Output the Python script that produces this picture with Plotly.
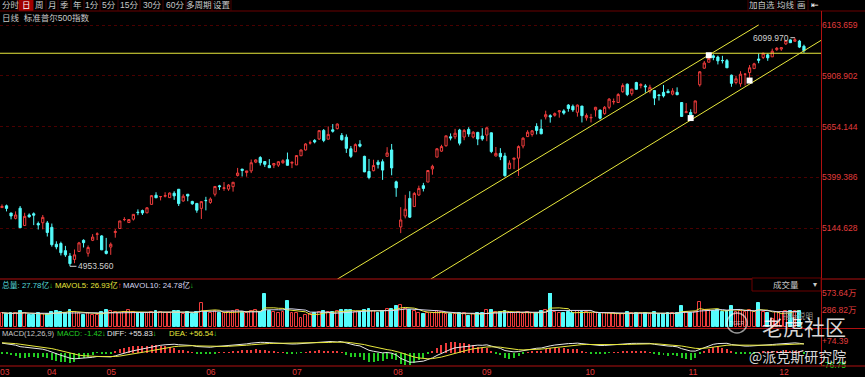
import plotly.graph_objects as go
import pandas as pd

W, H = 865, 377

# ---------------- data (S&P 500 daily) ----------------
dates = (["03-28"] +
         [f"04-{d:02d}" for d in [1,2,3,4,5,8,9,10,11,12,15,16,17,18,19,22,23,24,25,26,29,30]] +
         [f"05-{d:02d}" for d in [1,2,3,6,7,8,9,10,13,14,15,16,17,20,21,22,23,24,28,29,30,31]] +
         [f"06-{d:02d}" for d in [3,4,5,6,7,10,11,12,13,14,17,18,20,21,24,25,26,27,28]] +
         [f"07-{d:02d}" for d in [1,2,3,5,8,9,10,11,12,15,16,17,18,19,22,23,24,25,26,29,30,31]] +
         [f"08-{d:02d}" for d in [1,2,5,6,7,8,9,12,13,14,15,16,19,20,21,22,23,26,27,28,29,30]] +
         [f"09-{d:02d}" for d in [3,4,5,6,9,10,11,12,13,16,17,18,19,20,23,24,25,26,27,30]] +
         [f"10-{d:02d}" for d in [1,2,3,4,7,8,9,10,11,14,15,16,17,18,21,22,23,24,25,28,29,30,31]] +
         [f"11-{d:02d}" for d in [1,4,5,6,7,8,11,12,13,14,15,18,19,20,21,22,25,26,27,29]] +
         [f"12-{d:02d}" for d in [2,3,4,5,6,9,10]])

opens = [5248,
 5257,5221,5194,5245,5158,5211,5217,5168,5172,5171,5149,5064,5068,5032,5005,4988,5028,5084,5019,5084,5114,5106,
 5030,5050,5123,5143,5188,5173,5190,5225,5233,5222,5264,5310,5303,5305,5298,5320,5340,5281,5315,5279,5269,5244,
 5284,5274,5315,5357,5344,5341,5353,5409,5441,5424,5432,5476,5499,5479,5459,5461,5461,5473,5488,
 5471,5462,5508,5537,5572,5585,5592,5635,5591,5638,5644,5610,5601,5543,5528,5566,5505,5429,5433,5476,5478,5505,
 5537,5377,5151,5206,5294,5253,5311,5358,5376,5442,5501,5531,5558,5603,5603,5637,5602,5640,5602,5625,5607,5612,
 5623,5507,5520,5507,5443,5490,5496,5557,5604,5615,5655,5642,5703,5709,5711,5728,5733,5762,5756,5726,
 5757,5698,5698,5738,5737,5719,5751,5778,5775,5829,5867,5819,5875,5860,5858,5832,5835,5813,5826,5831,5817,5826,5775,
 5724,5725,5722,5864,5947,5977,6009,6003,5986,5985,5912,5875,5869,5917,5925,5945,5993,6001,6014,6004,
 6040,6043,6069,6089,6082,6083,6057]
highs = [5264,
 5263,5221,5229,5256,5222,5219,5224,5178,5211,5181,5168,5079,5077,5056,5020,5038,5076,5089,5058,5115,5124,5110,
 5096,5073,5140,5181,5200,5190,5215,5239,5238,5250,5311,5325,5305,5325,5324,5330,5341,5315,5315,5282,5270,5281,
 5302,5299,5355,5362,5376,5366,5375,5447,5442,5432,5489,5490,5506,5479,5491,5472,5481,5490,5524,
 5479,5510,5539,5571,5584,5591,5636,5642,5655,5667,5670,5622,5615,5557,5570,5586,5508,5492,5488,5487,5490,5551,
 5567,5383,5250,5312,5330,5326,5358,5372,5436,5463,5546,5563,5608,5620,5643,5643,5642,5651,5631,5628,5646,5651,
 5624,5552,5546,5523,5485,5497,5560,5601,5636,5637,5671,5690,5734,5716,5725,5736,5741,5767,5765,5765,
 5758,5720,5718,5753,5739,5757,5797,5795,5822,5871,5870,5843,5879,5872,5867,5864,5835,5817,5863,5842,5847,5851,5775,
 5772,5741,5784,5933,5983,6012,6017,6010,6009,5993,5915,5909,5932,5921,5963,5974,6021,6025,6021,6045,
 6053,6052,6087,6092,6100,6089,6065]
lows = [5246,
 5229,5189,5189,5146,5157,5197,5160,5138,5139,5103,5052,5039,5008,5001,4954,4969,5027,5048,5002,5080,5085,5035,
 5013,5011,5097,5142,5180,5171,5183,5210,5211,5219,5264,5296,5284,5299,5297,5287,5256,5278,5280,5262,5222,5191,
 5234,5267,5304,5336,5332,5332,5328,5404,5404,5403,5421,5471,5459,5452,5447,5446,5452,5468,5460,
 5446,5462,5507,5534,5564,5570,5587,5576,5590,5624,5640,5584,5522,5497,5528,5550,5426,5390,5430,5444,5387,5505,
 5410,5302,5120,5194,5196,5253,5307,5329,5376,5413,5501,5528,5554,5585,5591,5560,5586,5603,5595,5561,5583,5581,
 5521,5504,5486,5403,5443,5441,5407,5545,5602,5604,5615,5616,5690,5674,5704,5699,5714,5729,5728,5704,
 5675,5684,5675,5704,5690,5714,5741,5765,5775,5824,5807,5809,5840,5846,5824,5821,5762,5785,5800,5823,5811,5812,5703,
 5723,5697,5722,5855,5945,5977,5987,5966,5971,5948,5854,5866,5854,5860,5885,5944,5972,5993,5984,6004,
 6034,6034,6064,6075,6080,6048,6024]
closes = [5254,
 5244,5206,5211,5147,5204,5202,5210,5161,5199,5123,5062,5051,5022,5011,4967,5011,5071,5072,5048,5100,5116,5036,
 5018,5064,5128,5181,5188,5188,5214,5223,5221,5247,5308,5297,5303,5308,5321,5307,5268,5305,5306,5267,5235,5278,
 5283,5291,5354,5353,5347,5361,5375,5421,5434,5432,5473,5487,5473,5465,5448,5469,5478,5483,5460,
 5475,5509,5537,5567,5573,5577,5634,5585,5615,5631,5667,5588,5545,5505,5564,5556,5427,5399,5459,5464,5436,5522,
 5447,5347,5186,5240,5200,5319,5344,5344,5434,5455,5543,5554,5608,5597,5621,5571,5635,5617,5626,5592,5592,5648,
 5529,5520,5503,5408,5471,5496,5554,5596,5626,5633,5635,5618,5714,5703,5719,5733,5722,5745,5738,5762,
 5709,5710,5700,5751,5696,5751,5792,5780,5815,5860,5815,5842,5841,5865,5854,5851,5797,5810,5808,5824,5833,5814,5705,
 5729,5713,5783,5929,5973,5996,6001,5984,5985,5949,5871,5894,5917,5917,5949,5969,5987,6022,5999,6032,
 6047,6050,6086,6075,6090,6053,6035]
volumes = [24,
 22,23,24,27,23,20,21,23,22,22,26,27,25,24,29,25,23,21,24,20,21,25,
 29,27,25,24,25,28,25,24,23,24,25,27,26,24,24,27,27,22,25,22,26,41,
 26,24,27,23,23,25,27,28,26,24,27,28,26,56,27,25,24,25,44,
 24,23,16,21,22,23,25,27,25,25,27,29,28,28,25,25,28,31,27,24,27,31,
 31,35,37,31,29,27,24,22,24,24,27,25,22,22,22,23,23,19,22,23,23,28,
 28,26,25,27,24,23,26,22,25,23,24,27,28,57.36,25,24,23,25,23,27,
 26,25,24,24,22,23,23,23,22,22,26,24,24,23,24,22,25,22,22,23,24,24,36,
 26,24,26,43,29,28,27,28,26,27,36,25,27,25,28,26,40,25,23,14,
 25.15,26,27,27,26.87,27.78]

price_ticks = [5144.628, 5399.386, 5654.144, 5908.902, 6163.659]
vol_ticks = [57.364, 28.682]
vol_tick_text = ["573.64万", "286.82万"]
macd_ticks = [74.39, -76.75]
month_labels = ["03", "04", "05", "06", "07", "08", "09", "10", "11", "12"]
month_pos = [0.6, 11.0, 24.1, 46.1, 65.1, 87.4, 107.0, 129.8, 152.5, 172.6]

# trend lines drawn on the chart (index, price)
upper_x, upper_y = [74, 167], [4889, 6164]
lower_x, lower_y = [94.6, 180.8], [4889, 6087]
hline_price = 6022
anchor_x = [152, 156, 165]
anchor_y = [5697, 6012, 5885]
hi_idx, hi_val = 175, 6099.970
lo_idx, lo_val = 15, 4953.560

idx = list(range(len(closes)))
X0, X1 = -0.44, 180.76

def fy(y):
    return 1 - y / H

def fx(x):
    return x / W

RED = "#f03c3c"
CYAN = "#54fcfc"
AXRED = "#b01010"
GRIDRED = "#4a0000"
LBLRED = "#e03c3c"
YEL = "#e8e83c"
TXT = "#c8c8c8"
FONT = "Liberation Sans, Arial, Noto Sans CJK SC"
CJK = "Noto Sans CJK SC"

fig = go.Figure()

fig.add_trace(go.Candlestick(
    x=idx, open=opens, high=highs, low=lows, close=closes,
    increasing=dict(line=dict(color=RED, width=1), fillcolor="#000000"),
    decreasing=dict(line=dict(color=CYAN, width=1), fillcolor=CYAN),
    whiskerwidth=0, xaxis="x", yaxis="y", hoverinfo="skip", showlegend=False))

fig.add_trace(go.Scatter(x=[X0, X1], y=[hline_price, hline_price], mode="lines",
                         line=dict(color=YEL, width=1), xaxis="x", yaxis="y", showlegend=False))
fig.add_trace(go.Scatter(x=upper_x, y=upper_y, mode="lines", line=dict(color=YEL, width=1),
                         xaxis="x", yaxis="y", showlegend=False))
fig.add_trace(go.Scatter(x=lower_x, y=lower_y, mode="lines", line=dict(color=YEL, width=1),
                         xaxis="x", yaxis="y", showlegend=False))
fig.add_trace(go.Scatter(x=anchor_x, y=anchor_y, mode="markers",
                         marker=dict(symbol="square", size=6, color="#ffffff"),
                         xaxis="x", yaxis="y", showlegend=False))

up = [c >= o for o, c in zip(opens, closes)]
fig.add_trace(go.Bar(x=idx, y=volumes, width=0.62,
                     marker=dict(color=["#000000" if u else CYAN for u in up],
                                 line=dict(color=[RED if u else CYAN for u in up], width=1)),
                     xaxis="x2", yaxis="y2", showlegend=False))
vs = pd.Series(volumes)
ma5 = vs.rolling(5, min_periods=1).mean()
ma10 = vs.rolling(10, min_periods=1).mean()
fig.add_trace(go.Scatter(x=idx, y=ma5, mode="lines", line=dict(color=YEL, width=1),
                         xaxis="x2", yaxis="y2", showlegend=False))
fig.add_trace(go.Scatter(x=idx, y=ma10, mode="lines", line=dict(color="#d8d8f0", width=1),
                         xaxis="x2", yaxis="y2", showlegend=False))

# MACD(12,26,9) from the closes, EMAs carried in from the earlier history
e12, e26, dea = 5212.0, 5150.0, 64.0
diffs, deas = [], []
for v in closes:
    e12 = (2 * v + 11 * e12) / 13
    e26 = (2 * v + 25 * e26) / 27
    d = e12 - e26
    dea = (2 * d + 8 * dea) / 10
    diffs.append(d)
    deas.append(dea)
hist = [2 * (d - e) for d, e in zip(diffs, deas)]
fig.add_trace(go.Bar(x=idx, y=hist, width=0.22,
                     marker=dict(color=[RED if h >= 0 else "#22cc22" for h in hist], line=dict(width=0)),
                     xaxis="x3", yaxis="y3", showlegend=False))
fig.add_trace(go.Scatter(x=idx, y=diffs, mode="lines", line=dict(color="#e8e8e8", width=1),
                         xaxis="x3", yaxis="y3", showlegend=False))
fig.add_trace(go.Scatter(x=idx, y=deas, mode="lines", line=dict(color=YEL, width=1),
                         xaxis="x3", yaxis="y3", showlegend=False))

XD = [0, fx(821)]
common_x = dict(domain=XD, range=[X0, X1], showgrid=False, zeroline=False,
                showticklabels=False, ticks="", fixedrange=True, automargin=False)
AX_FONT = dict(color=LBLRED, size=8.5, family=FONT)
fig.update_layout(
    width=W, height=H, margin=dict(l=0, r=0, t=0, b=0, pad=0, autoexpand=False),
    paper_bgcolor="#000000", plot_bgcolor="#000000",
    font=dict(family=FONT, size=8, color=TXT),
    bargap=0, showlegend=False,
    xaxis=dict(**common_x, anchor="y", rangeslider=dict(visible=False)),
    yaxis=dict(domain=[fy(279), fy(10)], range=[4889.9, 6238.9], side="right",
               tickvals=price_ticks, ticktext=[f"{v:.3f}" for v in price_ticks],
               tickfont=AX_FONT, ticks="", automargin=False, ticklabeloverflow="allow",
               showgrid=True, gridcolor=GRIDRED, griddash="dot", gridwidth=1,
               zeroline=False, anchor="x"),
    xaxis2=dict(**common_x, anchor="y2"),
    yaxis2=dict(domain=[fy(327), fy(293)], range=[0, 57.364], side="right",
                tickvals=vol_ticks, ticktext=vol_tick_text, automargin=False,
                tickfont=AX_FONT, ticks="", ticklabeloverflow="allow",
                showgrid=False, zeroline=False, anchor="x2"),
    xaxis3=dict(domain=XD, range=[X0, X1], showgrid=False, zeroline=False, ticks="",
                tickvals=month_pos, ticktext=month_labels, automargin=False,
                ticklabeloverflow="allow",
                tickfont=AX_FONT, anchor="y3"),
    yaxis3=dict(domain=[fy(365), fy(341)], range=[-76.75, 74.39], side="right",
                tickvals=macd_ticks, automargin=False, ticklabeloverflow="allow",
                ticktext=["+74.39", "<span style='color:#22cc22'>-76.75</span>"],
                tickfont=AX_FONT, ticks="",
                showgrid=False, zeroline=False, anchor="x3"),
)

shapes = []
def hl(y, x0=0, x1=W, color=AXRED, width=1):
    shapes.append(dict(type="line", xref="paper", yref="paper", x0=fx(x0), x1=fx(x1),
                       y0=fy(y), y1=fy(y), line=dict(color=color, width=width)))
def vl(x, y0, y1, color=AXRED, width=1):
    shapes.append(dict(type="line", xref="paper", yref="paper", x0=fx(x), x1=fx(x),
                       y0=fy(y0), y1=fy(y1), line=dict(color=color, width=width)))

hl(11, color="#6a0000")
hl(279)
hl(328.5)
vl(821.5, 11, 366)
hl(366, 0, W)
for xs in [17.5, 18.5, 33.5, 46, 58, 71, 84, 100, 118, 140, 163, 186, 212, 231]:
    vl(xs, 0, 11, color="#4a0000")
shapes.append(dict(type="rect", xref="paper", yref="paper", x0=fx(18.5), x1=fx(33.5),
                   y0=fy(11), y1=fy(0), fillcolor="#a00000", line=dict(width=0), layer="below"))
for xs in [748, 776, 795, 808]:
    vl(xs, 0, 11, color="#4a0000")
shapes.append(dict(type="rect", xref="paper", yref="paper", x0=fx(752), x1=fx(821),
                   y0=fy(291), y1=fy(278), line=dict(color="#6a0000", width=1), fillcolor="#000000"))
shapes.append(dict(type="circle", xref="paper", yref="paper", x0=fx(727), x1=fx(747),
                   y0=fy(333), y1=fy(313), line=dict(color="rgba(255,255,255,0.6)", width=1.5)))
fig.update_layout(shapes=shapes)

ann = []
def txt(x, y, s, color=TXT, size=8, xanchor="left", family=FONT, **kw):
    ann.append(dict(x=fx(x), y=fy(y), xref="paper", yref="paper", text=s, showarrow=False,
                    xanchor=xanchor, yanchor="middle", font=dict(color=color, size=size, family=family), **kw))

TB = 8.5
txt(0, 5.5, "分时", xanchor="left", size=TB)
tools = [("日", 26), ("周", 39.5), ("月", 52), ("季", 64.5), ("年", 77.5), ("1分", 91.5),
         ("5分", 109), ("15分", 129), ("30分", 151.5), ("60分", 174.5), ("多周期", 199), ("设置", 221.5)]
for s, x in tools:
    txt(x, 5.5, s, color="#ffffff" if s == "日" else TXT, xanchor="center", size=TB)
txt(762, 5.5, "加自选", xanchor="center", size=TB)
txt(785.5, 5.5, "均线", xanchor="center", size=TB)
txt(801.5, 5.5, "画", xanchor="center", size=TB)
txt(815, 5.5, "⇤", color="#ffffff", xanchor="center", size=TB)
txt(0, 17.5, "日线  标准普尔500指数", size=8.5)

LG = 7.8
txt(0, 285, "总量: 27.78亿<span style='color:#22cc22'>↓</span>", color="#54d8d8", size=LG)
txt(53, 285, "MAVOL5: 26.93亿<span style='color:#ff3c3c'>↑</span>", color=YEL, size=LG)
txt(121, 285, "MAVOL10: 24.78亿<span style='color:#22cc22'>↓</span>", color="#d8d8f0", size=LG)
txt(786, 284.5, "成交量", color=TXT, xanchor="center", size=8.5)
txt(815, 284.5, "▾", color=TXT, xanchor="center", size=8)
txt(0, 333.5, "MACD(12,26,9)", color=TXT, size=7.5)
txt(55, 333.5, "MACD: -1.42<span style='color:#22cc22'>↓</span>", color="#22cc22", size=LG)
txt(105, 333.5, "DIFF: +55.83<span style='color:#22cc22'>↓</span>", color="#e8e8e8", size=LG)
txt(167, 333.5, "DEA: +56.54<span style='color:#22cc22'>↓</span>", color=YEL, size=LG)
txt(798, 316, "指标说明", color="#909090", xanchor="center", size=7.5)

ann.append(dict(x=hi_idx, y=hi_val, xref="x", yref="y", text=f"{hi_val:.3f}", showarrow=True,
                arrowhead=0, arrowwidth=1, arrowcolor="#d0d0d0", ax=-24, ay=0,
                font=dict(color="#d0d0d0", size=8.5, family=FONT)))
ann.append(dict(x=lo_idx, y=lo_val, xref="x", yref="y", text=f"{lo_val:.3f}", showarrow=True,
                arrowhead=0, arrowwidth=1, arrowcolor="#d0d0d0", ax=26, ay=0,
                font=dict(color="#d0d0d0", size=8.5, family=FONT)))

txt(804, 325.5, "老虎社区", color="rgba(255,255,255,0.85)", size=21, xanchor="center", family=CJK)
txt(737, 323, "TIGER", color="rgba(255,255,255,0.6)", size=5, xanchor="center")
txt(797, 355.5, "@派克斯研究院", color="rgba(255,255,255,0.85)", size=14, xanchor="center", family=CJK)
fig.update_layout(annotations=ann)

fig.write_html("out.html")
